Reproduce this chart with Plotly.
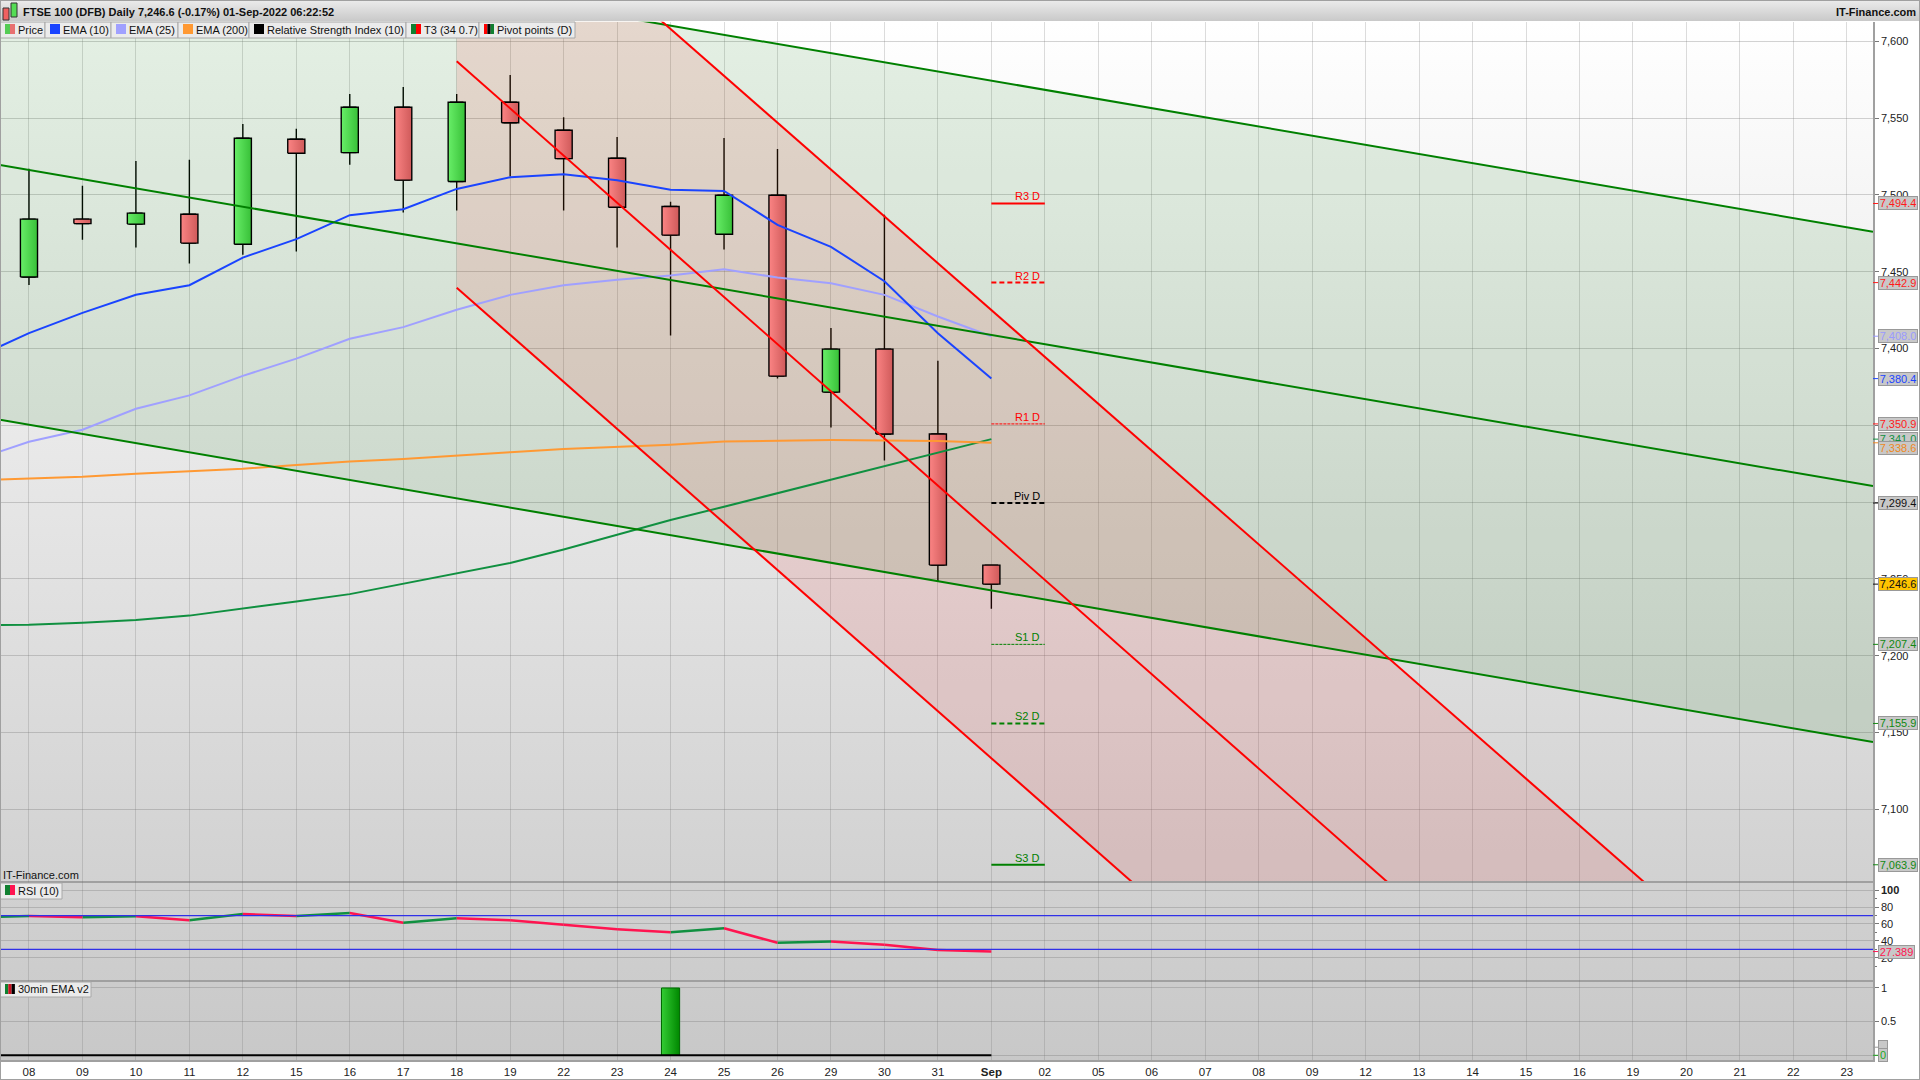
import plotly.graph_objects as go

W, H = 1920, 1080

# ---- data ------------------------------------------------------------------
tick_labels = ["08","09","10","11","12","15","16","17","18","19","22","23","24","25","26","29","30","31","Sep",
               "02","05","06","07","08","09","12","13","14","15","16","19","20","21","22","23"]
bar_index = list(range(len(tick_labels)))

candle_x = bar_index[:19]
opens  = [7446.5,7484.2,7481.0,7487.4,7467.9,7536.2,7527.5,7557.1,7508.7,7560.3,7542.1,7523.9,7492.4,7474.4,7499.8,7371.6,7399.6,7344.3,7259.0]
closes = [7484.2,7481.3,7488.1,7468.6,7536.9,7527.1,7557.1,7509.6,7560.3,7547.0,7523.6,7492.0,7473.8,7499.8,7382.0,7399.6,7344.3,7259.0,7246.6]
highs  = [7517.0,7506.0,7522.1,7522.8,7546.2,7543.0,7565.7,7570.3,7565.7,7578.0,7550.6,7537.7,7495.5,7537.1,7529.9,7413.3,7487.0,7392.0,7259.0]
lows   = [7441.4,7470.8,7465.7,7455.3,7461.0,7463.1,7519.7,7488.5,7489.8,7511.9,7489.8,7465.7,7408.5,7464.4,7380.5,7348.6,7327.1,7248.4,7230.6]

line_x = [-1] + candle_x
ema10  = [7394.0,7410.0,7423.2,7435.0,7441.2,7459.2,7471.2,7486.8,7490.7,7503.9,7511.5,7513.5,7509.6,7503.3,7502.6,7480.5,7466.2,7443.8,7410.0,7380.4]
ema25  = [7327.6,7339.3,7347.1,7360.8,7369.5,7382.2,7393.4,7406.3,7413.9,7425.2,7434.9,7441.2,7444.7,7447.5,7451.6,7446.2,7442.5,7434.9,7420.8,7408.0]
ema200 = [7314.2,7315.4,7316.5,7318.5,7320.2,7321.7,7324.1,7326.5,7328.1,7330.5,7332.5,7334.5,7336.0,7337.4,7339.5,7339.9,7340.4,7340.1,7339.8,7338.6]
t3     = [7219.8,7220.2,7221.4,7223.3,7226.1,7230.5,7235.3,7240.1,7246.8,7254.0,7260.4,7269.2,7278.7,7288.3,7297.0,7305.8,7314.6,7323.3,7332.1,7341.0]
rsi    = [68.0,69.4,67.9,69.1,64.3,71.8,69.4,73.0,61.5,66.7,64.3,59.1,53.7,50.1,54.9,37.8,39.4,35.4,29.2,27.389]
rsi_bands = [70, 30]
osc_x = [12]
osc_values = [1.0]

green_x = [-0.542, 34.49]
green_upper = [7685.0, 7476.0]
green_mid   = [7519.4, 7310.4]
green_lower = [7353.6, 7143.8]

red_x = [8, 31]
red_upper = [7730.0, 7028.5]
red_mid   = [7587.0, 6881.0]
red_lower = [7439.6, 6735.0]

pivot_names  = ["R3 D","R2 D","R1 D","Piv D","S1 D","S2 D","S3 D"]
pivot_values = [7494.4,7442.9,7350.9,7299.4,7207.4,7155.9,7063.9]
pivot_x = [18, 19]

main_ticks = [7100,7150,7200,7250,7300,7350,7400,7450,7500,7550,7600]
rsi_ticks = [100,80,60,40,20]
rsi_minor = [90,70,50,30,10]
osc_ticks = [1,0.5,0]

value_labels = [7494.4,7442.9,7408.0,7380.4,7350.9,7341.0,7338.6,7299.4,7246.6,7207.4,7155.9,7063.9]
value_colors = ["#ff1a1a","#ff1a1a","#9a9aff","#1a44ff","#ff1a1a","#109040","#ee8822","#111111","#111111","#118811","#118811","#118811"]

title_text = "FTSE 100 (DFB) Daily 7,246.6 (-0.17%) 01-Sep-2022 06:22:52"
legend_items = ["Price","EMA (10)","EMA (25)","EMA (200)","Relative Strength Index (10)","T3 (34 0.7)","Pivot points (D)"]

# ---- style -----------------------------------------------------------------
FONT = "Liberation Sans"
C_GREEN = "#008000"
C_RED = "#ff0000"
X_RANGE = [-0.542, 34.49]
PLOT_R = 1873
def fx(p): return p / W
def fy(p): return 1 - p / H

GRID_V = "rgba(110,110,110,0.24)"
GRID_H = "rgba(110,110,110,0.30)"
EDGE = "#a0a0a0"

fig = go.Figure()

# background gradients, on an axis pair that lies under every panel
fig.add_trace(go.Scatter(x=[0, fx(PLOT_R), fx(PLOT_R), 0, 0], y=[fy(21), fy(21), fy(1061), fy(1061), fy(21)],
                         xaxis="x", yaxis="y", mode="lines", line=dict(width=0), fill="toself",
                         fillgradient=dict(type="vertical", colorscale=[[0, "#c8c8c8"], [1, "#ffffff"]]),
                         hoverinfo="skip", showlegend=False))
fig.add_trace(go.Scatter(x=[0, 1, 1, 0, 0], y=[fy(0), fy(0), fy(21), fy(21), fy(0)],
                         xaxis="x", yaxis="y", mode="lines", line=dict(width=0), fill="toself",
                         fillgradient=dict(type="vertical", colorscale=[[0, "#c9c9c9"], [1, "#ececec"]]),
                         hoverinfo="skip", showlegend=False))

def main_line(x, y, color, width=2, dash="solid"):
    fig.add_trace(go.Scatter(x=x, y=y, xaxis="x2", yaxis="y2", mode="lines",
                             line=dict(color=color, width=width, dash=dash), showlegend=False, hoverinfo="skip"))

# channels
fig.add_trace(go.Scatter(x=green_x + green_x[::-1], y=green_upper + green_lower[::-1], xaxis="x2", yaxis="y2",
                         mode="lines", line=dict(width=0), fill="toself", fillcolor="rgba(0,110,0,0.105)",
                         showlegend=False, hoverinfo="skip"))
fig.add_trace(go.Scatter(x=red_x + red_x[::-1], y=red_upper + red_lower[::-1], xaxis="x2", yaxis="y2",
                         mode="lines", line=dict(width=0), fill="toself", fillcolor="rgba(240,20,20,0.11)",
                         showlegend=False, hoverinfo="skip"))

# candles
fig.add_trace(go.Candlestick(x=candle_x, open=opens, high=highs, low=lows, close=closes, xaxis="x2", yaxis="y2",
                             whiskerwidth=0, showlegend=False,
                             increasing=dict(line=dict(color="#000000", width=1.4), fillcolor="#55dd55"),
                             decreasing=dict(line=dict(color="#000000", width=1.4), fillcolor="#e87070")))
HALF = 0.16
for i, o, c in zip(candle_x, opens, closes):
    up = c >= o
    scale = [[0, "#68ee68"], [1, "#38c038"]] if up else [[0, "#fb8484"], [1, "#cf5a5a"]]
    lo, hi = min(o, c), max(o, c)
    fig.add_trace(go.Scatter(x=[i-HALF, i+HALF, i+HALF, i-HALF, i-HALF], y=[lo, lo, hi, hi, lo], xaxis="x2", yaxis="y2",
                             mode="lines", line=dict(color="#000000", width=1.4), fill="toself",
                             fillgradient=dict(type="horizontal", colorscale=scale),
                             showlegend=False, hoverinfo="skip"))

# indicator and channel lines
main_line(line_x, t3, "#109040")
main_line(line_x, ema200, "#ff9933")
main_line(line_x, ema25, "#a0a0ff")
main_line(line_x, ema10, "#1a44ff")
for arr in (green_upper, green_mid, green_lower):
    main_line(green_x, arr, C_GREEN)
for arr in (red_upper, red_mid, red_lower):
    main_line(red_x, arr, C_RED)

# pivots
pivot_colors = [C_RED, C_RED, C_RED, "#000000", C_GREEN, C_GREEN, C_GREEN]
pivot_widths = [2, 2, 1, 2, 1, 2, 2]
pivot_dashes = ["solid", "5px,3px", "3px,1px", "5px,3px", "3px,1px", "5px,3px", "solid"]
for v, col, w, d in zip(pivot_values, pivot_colors, pivot_widths, pivot_dashes):
    main_line(pivot_x, [v, v], col, w, d)

# RSI: green while rising, red while falling
up_x, up_y, dn_x, dn_y = [], [], [], []
for i in range(1, len(rsi)):
    tx, ty = (up_x, up_y) if rsi[i] >= rsi[i-1] else (dn_x, dn_y)
    tx += [line_x[i-1], line_x[i], None]
    ty += [rsi[i-1], rsi[i], None]
fig.add_trace(go.Scatter(x=up_x, y=up_y, xaxis="x3", yaxis="y3", mode="lines", line=dict(color="#109040", width=2.5),
                         showlegend=False, hoverinfo="skip"))
fig.add_trace(go.Scatter(x=dn_x, y=dn_y, xaxis="x3", yaxis="y3", mode="lines", line=dict(color="#ff1450", width=2.5),
                         showlegend=False, hoverinfo="skip"))
for b in rsi_bands:
    fig.add_trace(go.Scatter(x=X_RANGE, y=[b, b], xaxis="x3", yaxis="y3", mode="lines", line=dict(color="#3030e8", width=1.3),
                             showlegend=False, hoverinfo="skip"))

# oscillator panel
fig.add_trace(go.Bar(x=osc_x, y=osc_values, width=0.34, xaxis="x4", yaxis="y4", marker=dict(color="#22aa22"),
                     showlegend=False, hoverinfo="skip"))
for x0, v in zip(osc_x, osc_values):
    fig.add_trace(go.Scatter(x=[x0-0.17, x0+0.17, x0+0.17, x0-0.17, x0-0.17], y=[0, 0, v, v, 0], xaxis="x4", yaxis="y4",
                             mode="lines", line=dict(color="#006600", width=1), fill="toself",
                             fillgradient=dict(type="horizontal", colorscale=[[0, "#33cc33"], [1, "#008800"]]),
                             showlegend=False, hoverinfo="skip"))
fig.add_trace(go.Scatter(x=[X_RANGE[0], candle_x[-1]], y=[0, 0], xaxis="x4", yaxis="y4", mode="lines",
                         line=dict(color="#000000", width=2), showlegend=False, hoverinfo="skip"))

# ---- text and chrome --------------------------------------------------------
ann, shapes = [], []

def px_text(x, y, text, size=11, color="#111111", anchor="left", **kw):
    x = x - 2 if anchor == "left" else x + 2
    ann.append(dict(xref="paper", yref="paper", x=fx(x), y=fy(y), text=text, showarrow=False, xanchor=anchor, yanchor="middle",
                    font=dict(family=FONT, size=size, color=color), **kw))

def rect(x0, y0, x1, y1, fill, line=None, width=1):
    shapes.append(dict(type="rect", xref="paper", yref="paper", x0=fx(x0), x1=fx(x1), y0=fy(y0), y1=fy(y1), layer="above",
                       fillcolor=fill, line=dict(color=line or fill, width=width if line else 0)))

# title bar
rect(3, 8, 9, 20, "#f06060", "#333333")
rect(11, 3, 17, 17, "#55dd55", "#333333")
px_text(23, 12, "<b>%s</b>" % title_text, size=11)
px_text(1916, 12, "<b>IT-Finance.com</b>", size=11, anchor="right")

# legend strip
edges = [0, 45, 111, 178, 249, 406, 479, 575]
swatches = [["#55cc55", "#e87070"], ["#1a44ff"], ["#a0a0ff"], ["#ff9933"], ["#000000"], ["#108030", "#ff0000"], ["#ff0000", "#000000", "#108030"]]
for i, name in enumerate(legend_items):
    rect(edges[i], 22, edges[i+1], 38, "#ebebeb", "#a8a8a8")
    n = len(swatches[i])
    for k, col in enumerate(swatches[i]):
        rect(edges[i] + 5 + k*10/n, 24, edges[i] + 5 + (k+1)*10/n, 34, col)
    px_text(edges[i] + 18, 30, name)

# sub-panel captions
px_text(3, 875, "IT-Finance.com")
rect(0, 883, 62, 899, "#ebebeb", "#a8a8a8")
for k, col in enumerate(["#108030", "#ff1450"]):
    rect(5 + k*5, 885, 10 + k*5, 895, col)
px_text(18, 891, "RSI (10)")
rect(0, 982, 91, 997, "#ebebeb", "#a8a8a8")
for k, col in enumerate(["#108030", "#cc1020", "#000000"]):
    rect(5 + k*3.3, 984, 5 + (k+1)*3.3, 994, col)
px_text(18, 989, "30min EMA v2")

# pivot captions
for name, v, col in zip(pivot_names, pivot_values, pivot_colors):
    ann.append(dict(xref="x2", yref="y2", x=18.94, y=v, text=name, showarrow=False, xanchor="right", yanchor="bottom", yshift=-1,
                    font=dict(family=FONT, size=11, color=col)))

# value boxes on the right
def value_box(xref_y, v, label, color, bg="#c8c8c8", width=38, yshift=0):
    ann.append(dict(xref="paper", yref=xref_y, x=fx(1878), y=v, text=label, showarrow=False, xanchor="left", yanchor="middle",
                    font=dict(family=FONT, size=11, color=color), bgcolor=bg, bordercolor="#999999", borderwidth=1, borderpad=0,
                    width=width, height=12, align="center", yshift=yshift))
    shapes.append(dict(type="line", xref="paper", yref=xref_y, x0=fx(PLOT_R), x1=fx(1878), y0=v, y1=v, layer="above",
                       line=dict(color=color, width=1)))

for v, col in zip(value_labels, value_colors):
    is_last = v == closes[-1]
    value_box("y2", v, f"{v:,.1f}", col, bg="#ffc400" if is_last else "#c8c8c8", yshift=-5 if v == ema200[-1] else 0)
value_box("y3", rsi[-1], f"{rsi[-1]:.3f}", "#ff1450", width=35)
value_box("y4", 0.12, "", "#999999", width=8)
value_box("y4", 0, "0", "#22aa22", width=8)

# outer frame
shapes.append(dict(type="rect", xref="paper", yref="paper", x0=0, x1=1, y0=0, y1=1, layer="above", line=dict(color="#a0a0a0", width=2)))

def x_axis(anchor, **kw):
    d = dict(domain=[0, fx(PLOT_R)], range=X_RANGE, anchor=anchor, showgrid=True, gridcolor=GRID_V, gridwidth=1,
             tickmode="array", tickvals=bar_index, zeroline=False, showline=True, linecolor=EDGE, linewidth=2,
             fixedrange=True, showticklabels=False, ticks="")
    d.update(kw)
    return d

def y_axis(anchor, dom, rng, **kw):
    d = dict(domain=dom, range=rng, anchor=anchor, side="right", showgrid=True, gridcolor=GRID_H, gridwidth=1, zeroline=False,
             showline=True, linecolor=EDGE, linewidth=1.5, ticks="outside", ticklen=4, tickcolor="#777777", tickwidth=1,
             fixedrange=True, tickfont=dict(family=FONT, size=11, color="#222222"), tickmode="array")
    d.update(kw)
    return d

tick_text = ["<b>Sep</b>" if t == "Sep" else t for t in tick_labels]

fig.update_layout(
    width=W, height=H, margin=dict(l=0, r=0, t=0, b=0), autosize=False,
    paper_bgcolor="#ffffff", plot_bgcolor="rgba(0,0,0,0)", showlegend=False, bargap=0,
    boxgap=0.68, dragmode=False, hovermode=False,
    font=dict(family=FONT, size=11, color="#222222"),
    xaxis=dict(domain=[0, 1], range=[0, 1], visible=False, fixedrange=True),
    yaxis=dict(domain=[0, 1], range=[0, 1], visible=False, fixedrange=True),
    xaxis2=x_axis("y2", rangeslider=dict(visible=False)),
    yaxis2=y_axis("x2", [fy(880.9), fy(21.7)], [7053.4, 7612.75], tickvals=main_ticks, ticktext=[f"{t:,d}" for t in main_ticks]),
    xaxis3=x_axis("y3"),
    yaxis3=y_axis("x3", [fy(980.1), fy(880.9)], [-6.4, 111.0], tickvals=rsi_ticks,
                  ticktext=["<b>100</b>"] + [str(t) for t in rsi_ticks[1:]],
                  minor=dict(tickmode="array", tickvals=rsi_minor, ticks="outside", ticklen=2, tickcolor="#777777", showgrid=False)),
    xaxis4=x_axis("y4", showticklabels=True, ticktext=tick_text, tickfont=dict(family=FONT, size=11.5, color="#222222")),
    yaxis4=y_axis("x4", [fy(1060), fy(980.1)], [-0.07, 1.117], tickvals=osc_ticks, ticktext=["1", "0.5", "0"]),
    annotations=ann, shapes=shapes,
)

fig.write_html("out.html", config=dict(displayModeBar=False),
               post_script="document.body.style.margin='0';document.body.style.overflow='hidden';")
